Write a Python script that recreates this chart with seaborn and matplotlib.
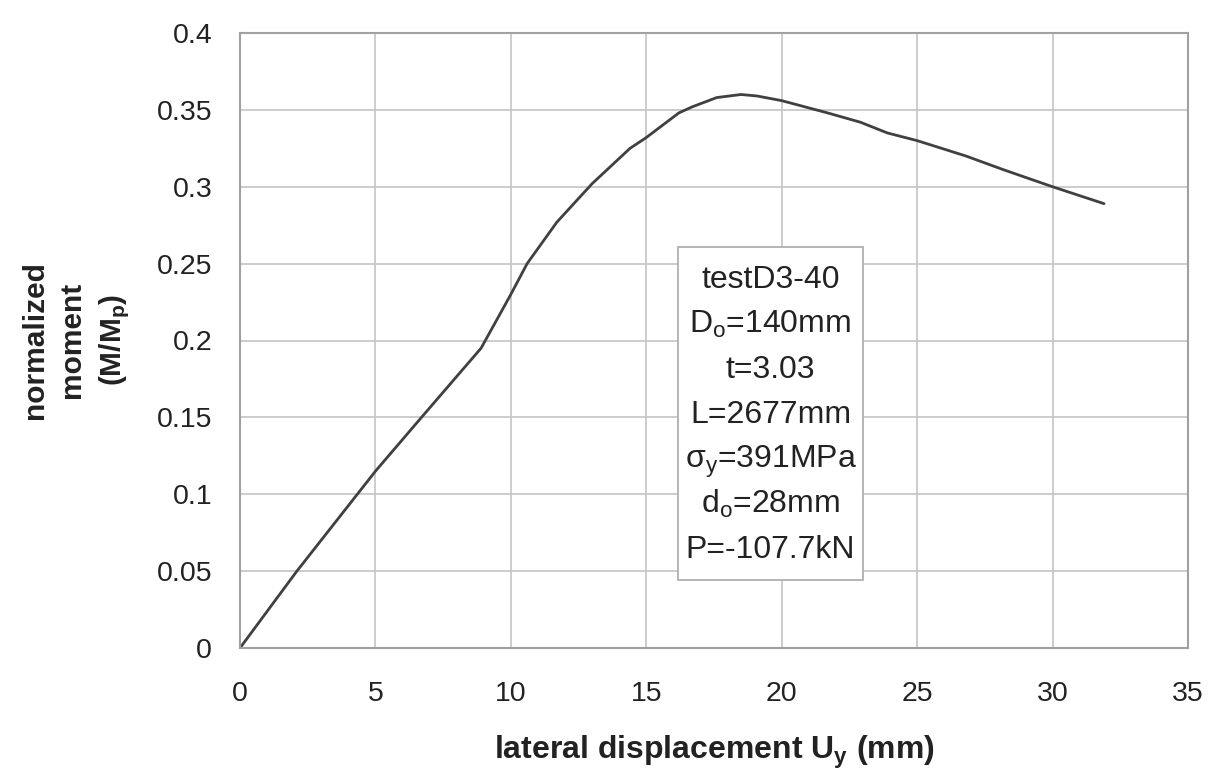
import matplotlib
matplotlib.use("Agg")
import matplotlib.pyplot as plt
import matplotlib.ticker as mticker
from matplotlib.patches import Rectangle
import seaborn as sns
import pandas as pd

# Data
disp_mm = [0.0, 2.1, 5.0, 6.7, 8.9, 10.0, 10.6, 11.7, 13.0, 14.4, 15.0, 16.2,
           16.7, 17.6, 18.5, 19.1, 20.0, 21.7, 22.9, 23.9, 25.0, 26.8, 28.2,
           30.0, 31.9]
moment = [0.0, 0.05, 0.115, 0.15, 0.195, 0.23, 0.25, 0.277, 0.302, 0.325,
          0.332, 0.348, 0.352, 0.358, 0.360, 0.359, 0.356, 0.348, 0.342,
          0.335, 0.330, 0.320, 0.311, 0.300, 0.289]
x_ticks = [0, 5, 10, 15, 20, 25, 30, 35]
y_ticks = [0, 0.05, 0.1, 0.15, 0.2, 0.25, 0.3, 0.35, 0.4]
box_lines = ["testD3-40", r"D$_\mathregular{o}$=140mm", "t=3.03", "L=2677mm",
             r"σ$_\mathregular{y}$=391MPa", r"d$_\mathregular{o}$=28mm", "P=-107.7kN"]
ylabel_lines = ["normalized", "moment", r"(M/M$_\mathregular{p}$)"]
xlabel_text = r"lateral displacement U$_\mathregular{y}$ (mm)"

sns.set_theme(style="whitegrid")
plt.rcParams['font.family'] = ['Liberation Sans', 'DejaVu Sans']
plt.rcParams['mathtext.fontset'] = 'custom'
plt.rcParams['mathtext.rm'] = 'Liberation Sans'
plt.rcParams['mathtext.it'] = 'Liberation Sans'
plt.rcParams['mathtext.bf'] = 'Liberation Sans:bold'

df = pd.DataFrame({"x": disp_mm, "y": moment})

W, H = 1210, 770
fig = plt.figure(figsize=(W / 100, H / 100), dpi=100)
ax = fig.add_axes([240 / W, 1 - 648 / H, (1188 - 240) / W, (648 - 33) / H])
sns.lineplot(data=df, x="x", y="y", ax=ax, sort=False, color="#404040", linewidth=2)

ax.set_xlim(0, 35)
ax.set_ylim(0, 0.4)
ax.set_xticks(x_ticks)
ax.set_yticks(y_ticks)
ax.yaxis.set_major_formatter(mticker.FuncFormatter(lambda v, p: "%g" % v))
ax.grid(True, color="#c4c4c4", linewidth=1.2)
for s in ax.spines.values():
    s.set_visible(True)
    s.set_color("#a0a0a0")
    s.set_linewidth(1.5)
ax.tick_params(axis="both", labelsize=20.5, colors="#a0a0a0", labelcolor="#222222",
               length=8, width=1.2, direction="out")
ax.tick_params(axis="y", pad=12)
ax.tick_params(axis="x", pad=16)
ax.set_facecolor("white")
ax.set_xlabel("")
ax.set_ylabel("")

# x-axis title
fig.text(714 / W, 1 - 759 / H, xlabel_text, fontsize=23, fontweight="bold",
         color="#222222", ha="center", va="baseline")

# y-axis title, three rotated lines
for i, line in enumerate(ylabel_lines):
    bx = [43, 80, 121][i]
    fig.text(bx / W, 1 - 340 / H, line, fontsize=21.5, fontweight="bold",
             color="#222222", rotation=90, rotation_mode="anchor",
             ha="center", va="baseline")

# annotation box
bx0, bx1, by0, by1 = 678, 863, 247, 580
ax.add_patch(Rectangle(((bx0 - 240) / 948, (648 - by1) / 615),
                       (bx1 - bx0) / 948, (by1 - by0) / 615,
                       transform=ax.transAxes, facecolor="white",
                       edgecolor="#b0b0b0", linewidth=1.3, zorder=4))
cx = ((bx0 + bx1) / 2 - 240) / 948
for i, line in enumerate(box_lines):
    base_px = 288 + 45 * i
    ax.text(cx, (648 - base_px) / 615, line, transform=ax.transAxes,
            fontsize=23, color="#222222", ha="center", va="baseline", zorder=5)

fig.savefig("out.png", dpi=100, facecolor="white")
